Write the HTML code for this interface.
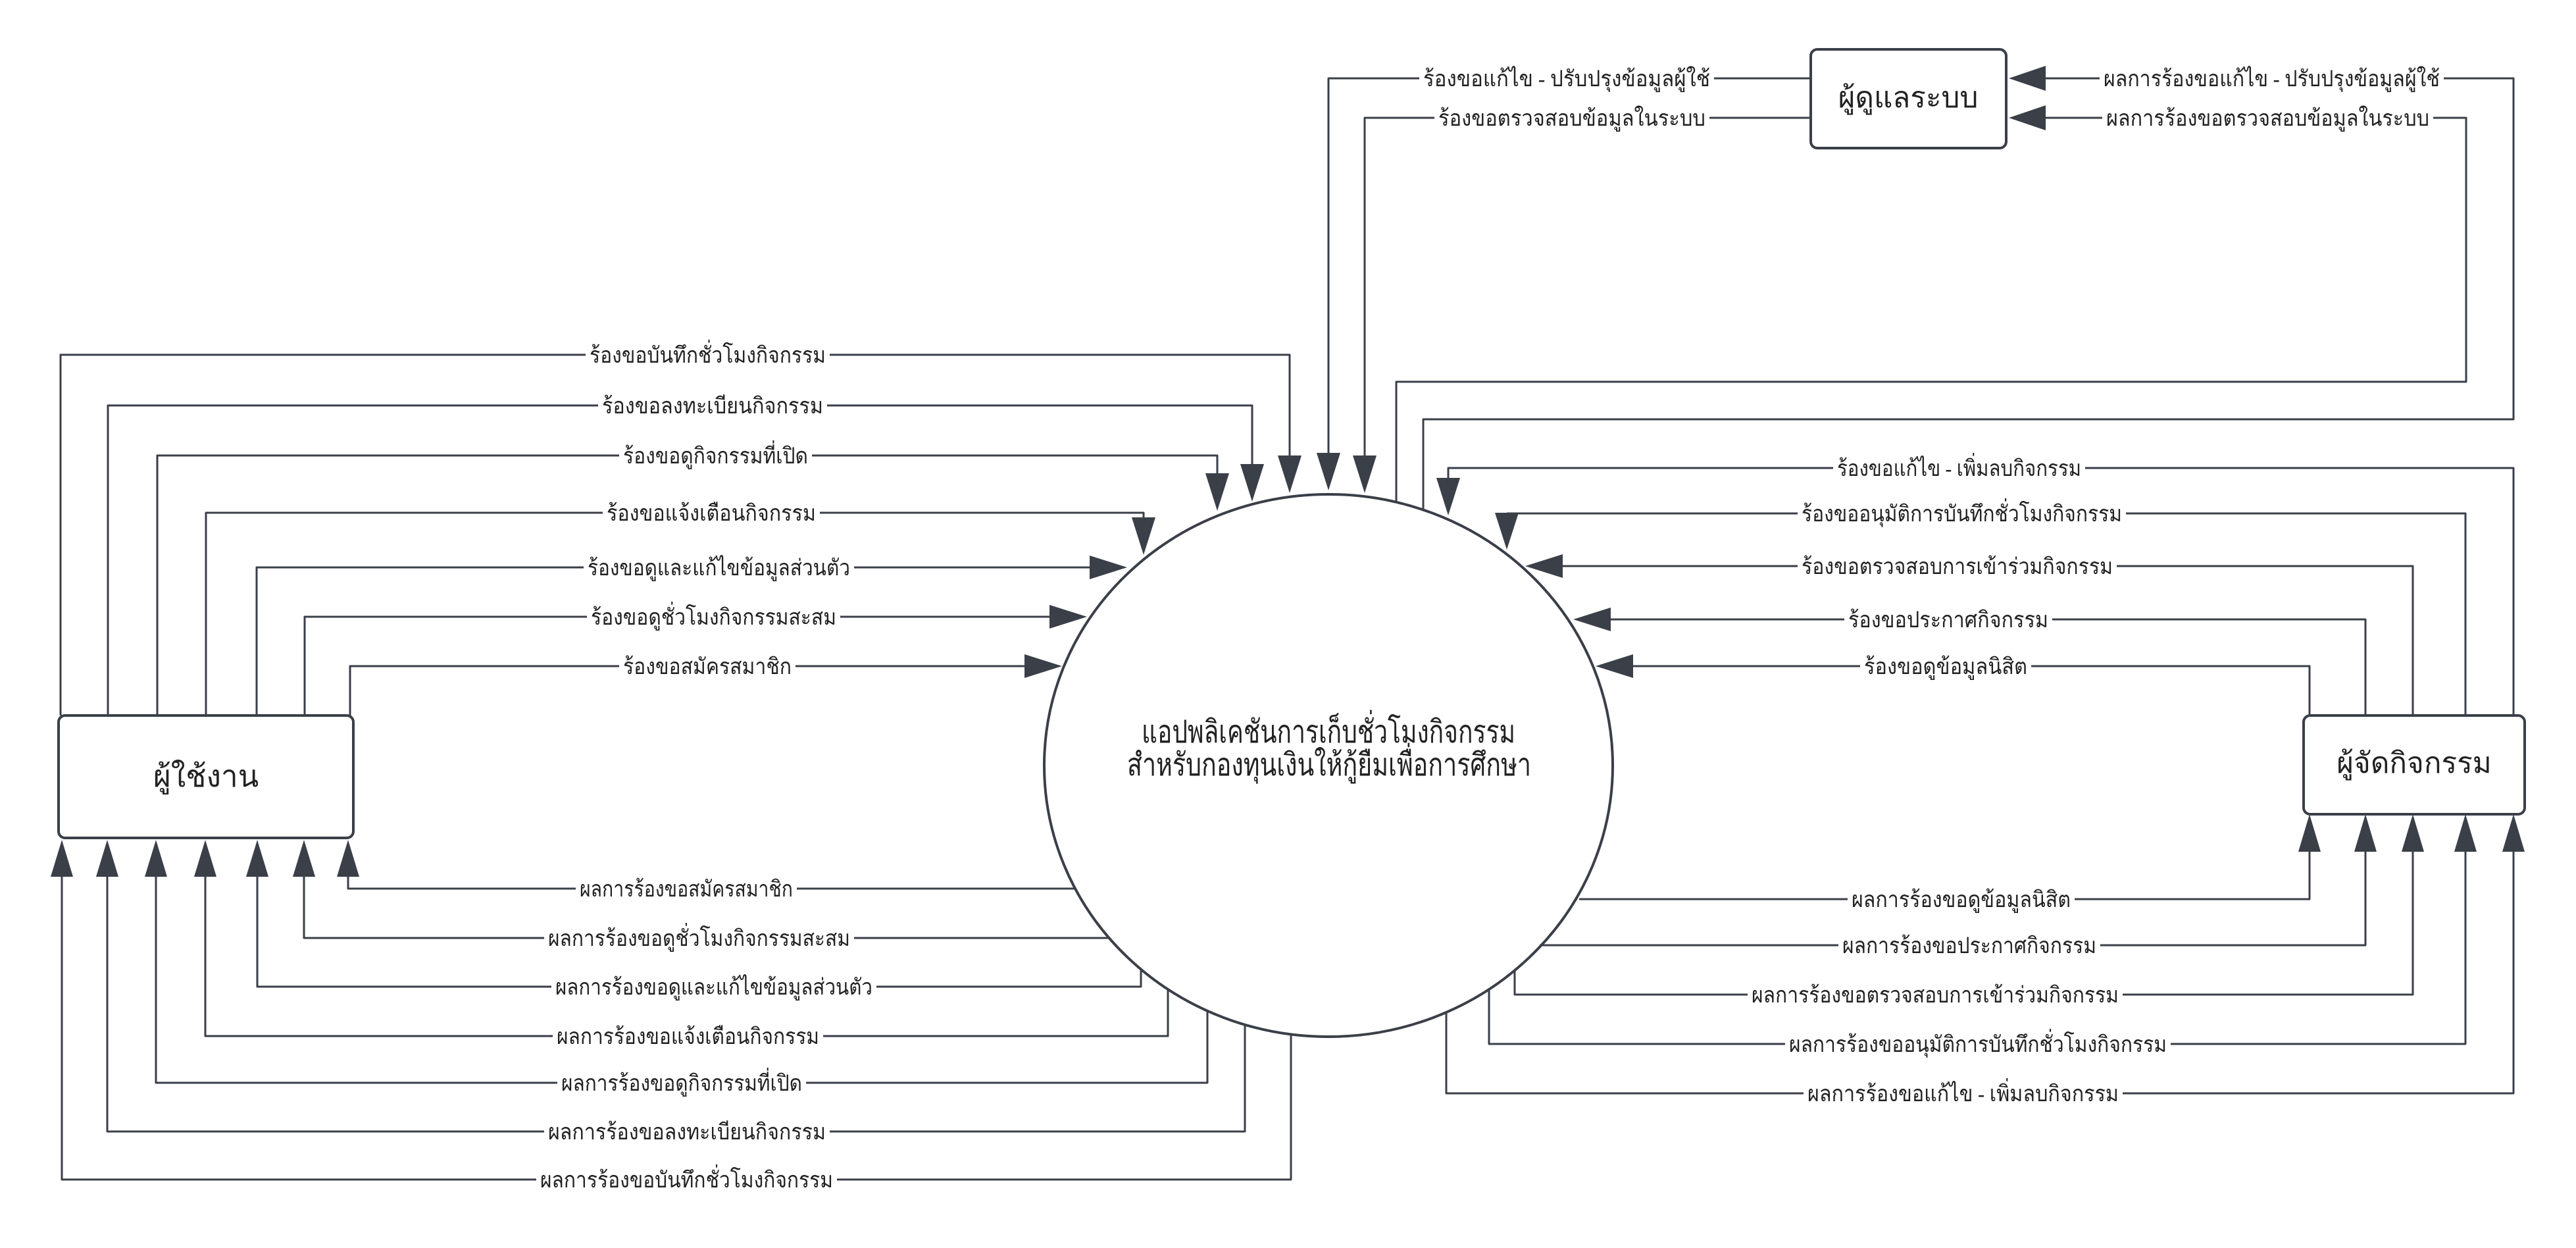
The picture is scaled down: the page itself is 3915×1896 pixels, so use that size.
<!DOCTYPE html>
<html><head><meta charset="utf-8"><style>
html,body{margin:0;padding:0;background:#fff;}
svg{display:block;}
text{font-family:"Liberation Serif","Noto Sans CJK SC",serif;fill:#222;}
.l{fill:none;stroke:#3a3f48;stroke-width:3;stroke-linejoin:round;}
.a{fill:#3a3f48;}
.b{fill:#fff;stroke:#3a3f48;stroke-width:4;}
.lb{font-size:34px;}
</style></head><body>
<svg width="3915" height="1896" viewBox="0 0 3915 1896" xmlns="http://www.w3.org/2000/svg">
<rect width="3915" height="1896" fill="#fff"/>
<ellipse class="b" cx="2019" cy="1163" rx="432" ry="412"/>
<text x="2019" y="1128" text-anchor="middle" font-size="48" textLength="568" lengthAdjust="spacingAndGlyphs">แอปพลิเคชันการเก็บชั่วโมงกิจกรรม</text>
<text x="2020" y="1178" text-anchor="middle" font-size="48" textLength="614" lengthAdjust="spacingAndGlyphs">สำหรับกองทุนเงินให้กู้ยืมเพื่อการศึกษา</text>

<rect class="b" x="89" y="1087" width="448" height="186" rx="10"/>
<text x="313" y="1195" text-anchor="middle" font-size="46">ผู้ใช้งาน</text>
<rect class="b" x="2752" y="75" width="297" height="150" rx="10"/>
<text x="2900" y="163" text-anchor="middle" font-size="44">ผู้ดูแลระบบ</text>
<rect class="b" x="3501" y="1087" width="336" height="150" rx="10"/>
<text x="3669" y="1174" text-anchor="middle" font-size="44">ผู้จัดกิจกรรม</text>

<!-- user requests -->
<polyline class="l" points="92,1087 92,539 1960,539 1960,700"/>
<polyline class="l" points="164,1087 164,616 1903,616 1903,706"/>
<polyline class="l" points="239,1087 239,692 1850,692 1850,720"/>
<polyline class="l" points="313,1087 313,779 1738,779 1738,787"/>
<polyline class="l" points="390,1087 390,862 1656,862"/>
<polyline class="l" points="463,1087 463,937 1595,937"/>
<polyline class="l" points="532,1087 532,1012 1557,1012"/>
<polygon class="a" points="1942,692 1978,692 1960,749"/>
<polygon class="a" points="1885,705 1921,705 1903,762"/>
<polygon class="a" points="1832,719 1868,719 1850,776"/>
<polygon class="a" points="1720,786 1756,786 1738,843"/>
<polygon class="a" points="1656,844 1656,880 1713,862"/>
<polygon class="a" points="1595,919 1595,955 1652,937"/>
<polygon class="a" points="1557,994 1557,1030 1614,1012"/>

<!-- user results -->
<polyline class="l" points="529,1332 529,1350 1634,1350"/>
<polyline class="l" points="462,1332 462,1425 1685,1425"/>
<polyline class="l" points="391,1332 391,1499 1734,1499 1734,1472"/>
<polyline class="l" points="312,1332 312,1574 1775,1574 1775,1503"/>
<polyline class="l" points="237,1332 237,1645 1835,1645 1835,1536"/>
<polyline class="l" points="163,1332 163,1719 1892,1719 1892,1557"/>
<polyline class="l" points="94,1332 94,1792 1962,1792 1962,1571"/>
<polygon class="a" points="512,1332 546,1332 529,1276"/>
<polygon class="a" points="445,1332 479,1332 462,1276"/>
<polygon class="a" points="374,1332 408,1332 391,1276"/>
<polygon class="a" points="295,1332 329,1332 312,1276"/>
<polygon class="a" points="220,1332 254,1332 237,1276"/>
<polygon class="a" points="146,1332 180,1332 163,1276"/>
<polygon class="a" points="77,1332 111,1332 94,1276"/>

<!-- admin requests -->
<polyline class="l" points="2752,119 2019,119 2019,690"/>
<polyline class="l" points="2752,179 2074,179 2074,694"/>
<polygon class="a" points="2001,688 2037,688 2019,745"/>
<polygon class="a" points="2056,692 2092,692 2074,749"/>
<polyline class="l" points="2163,775 2163,637 3820,637 3820,119 3109,119"/>
<polyline class="l" points="2122,763 2122,580 3748,580 3748,179 3109,179"/>
<polygon class="a" points="3109,100 3109,138 3053,119"/>
<polygon class="a" points="3109,160 3109,198 3053,179"/>

<!-- organizer requests -->
<polyline class="l" points="3820,1087 3820,711 2201,711 2201,727"/>
<polyline class="l" points="3747,1087 3747,780 2290,780"/>
<polyline class="l" points="3667,1087 3667,860 2375,860"/>
<polyline class="l" points="3595,1087 3595,941 2448,941"/>
<polyline class="l" points="3510,1087 3510,1012 2482,1012"/>
<polygon class="a" points="2183,726 2219,726 2201,783"/>
<polygon class="a" points="2272,779 2308,779 2290,835"/>
<polygon class="a" points="2375,842 2375,878 2318,860"/>
<polygon class="a" points="2448,923 2448,959 2391,941"/>
<polygon class="a" points="2482,994 2482,1030 2425,1012"/>

<!-- organizer results -->
<polyline class="l" points="3510,1292 3510,1366 2400,1366"/>
<polyline class="l" points="3595,1292 3595,1436 2340,1436"/>
<polyline class="l" points="3667,1292 3667,1511 2302,1511 2302,1474"/>
<polyline class="l" points="3747,1292 3747,1586 2263,1586 2263,1503"/>
<polyline class="l" points="3820,1292 3820,1661 2198,1661 2198,1538"/>
<polygon class="a" points="3493,1294 3527,1294 3510,1237"/>
<polygon class="a" points="3578,1294 3612,1294 3595,1237"/>
<polygon class="a" points="3650,1294 3684,1294 3667,1237"/>
<polygon class="a" points="3730,1294 3764,1294 3747,1237"/>
<polygon class="a" points="3803,1294 3837,1294 3820,1237"/>

<g fill="#fff">
<rect x="890" y="519" width="371" height="40"/>
<rect x="909" y="596" width="348" height="40"/>
<rect x="941" y="672" width="293" height="40"/>
<rect x="916" y="759" width="330" height="40"/>
<rect x="887" y="842" width="411" height="40"/>
<rect x="892" y="917" width="385" height="40"/>
<rect x="941" y="992" width="268" height="40"/>
<rect x="875" y="1330" width="336" height="40"/>
<rect x="827" y="1405" width="471" height="40"/>
<rect x="838" y="1479" width="494" height="40"/>
<rect x="840" y="1554" width="411" height="40"/>
<rect x="847" y="1625" width="378" height="40"/>
<rect x="827" y="1699" width="434" height="40"/>
<rect x="815" y="1772" width="457" height="40"/>
<rect x="2157" y="99" width="448" height="40"/>
<rect x="2180" y="159" width="418" height="40"/>
<rect x="3191" y="99" width="523" height="40"/>
<rect x="3195" y="159" width="503" height="40"/>
<rect x="2786" y="691" width="383" height="40"/>
<rect x="2732" y="760" width="499" height="40"/>
<rect x="2732" y="840" width="485" height="40"/>
<rect x="2803" y="921" width="316" height="40"/>
<rect x="2827" y="992" width="260" height="40"/>
<rect x="2808" y="1346" width="345" height="40"/>
<rect x="2794" y="1416" width="398" height="40"/>
<rect x="2656" y="1491" width="570" height="40"/>
<rect x="2713" y="1566" width="586" height="40"/>
<rect x="2741" y="1641" width="485" height="40"/>
</g>

<g class="lb">
<text x="896" y="551" textLength="359" lengthAdjust="spacingAndGlyphs">ร้องขอบันทึกชั่วโมงกิจกรรม</text>
<text x="915" y="628" textLength="336" lengthAdjust="spacingAndGlyphs">ร้องขอลงทะเบียนกิจกรรม</text>
<text x="947" y="704" textLength="281" lengthAdjust="spacingAndGlyphs">ร้องขอดูกิจกรรมที่เปิด</text>
<text x="922" y="791" textLength="318" lengthAdjust="spacingAndGlyphs">ร้องขอแจ้งเตือนกิจกรรม</text>
<text x="893" y="874" textLength="399" lengthAdjust="spacingAndGlyphs">ร้องขอดูและแก้ไขข้อมูลส่วนตัว</text>
<text x="898" y="949" textLength="373" lengthAdjust="spacingAndGlyphs">ร้องขอดูชั่วโมงกิจกรรมสะสม</text>
<text x="947" y="1024" textLength="256" lengthAdjust="spacingAndGlyphs">ร้องขอสมัครสมาชิก</text>

<text x="881" y="1362" textLength="324" lengthAdjust="spacingAndGlyphs">ผลการร้องขอสมัครสมาชิก</text>
<text x="833" y="1437" textLength="459" lengthAdjust="spacingAndGlyphs">ผลการร้องขอดูชั่วโมงกิจกรรมสะสม</text>
<text x="844" y="1511" textLength="482" lengthAdjust="spacingAndGlyphs">ผลการร้องขอดูและแก้ไขข้อมูลส่วนตัว</text>
<text x="846" y="1586" textLength="399" lengthAdjust="spacingAndGlyphs">ผลการร้องขอแจ้งเตือนกิจกรรม</text>
<text x="853" y="1657" textLength="366" lengthAdjust="spacingAndGlyphs">ผลการร้องขอดูกิจกรรมที่เปิด</text>
<text x="833" y="1731" textLength="422" lengthAdjust="spacingAndGlyphs">ผลการร้องขอลงทะเบียนกิจกรรม</text>
<text x="821" y="1804" textLength="445" lengthAdjust="spacingAndGlyphs">ผลการร้องขอบันทึกชั่วโมงกิจกรรม</text>

<text x="2163" y="131" textLength="436" lengthAdjust="spacingAndGlyphs">ร้องขอแก้ไข - ปรับปรุงข้อมูลผู้ใช้</text>
<text x="2186" y="191" textLength="406" lengthAdjust="spacingAndGlyphs">ร้องขอตรวจสอบข้อมูลในระบบ</text>
<text x="3197" y="131" textLength="511" lengthAdjust="spacingAndGlyphs">ผลการร้องขอแก้ไข - ปรับปรุงข้อมูลผู้ใช้</text>
<text x="3201" y="191" textLength="491" lengthAdjust="spacingAndGlyphs">ผลการร้องขอตรวจสอบข้อมูลในระบบ</text>

<text x="2792" y="723" textLength="371" lengthAdjust="spacingAndGlyphs">ร้องขอแก้ไข - เพิ่มลบกิจกรรม</text>
<text x="2738" y="792" textLength="487" lengthAdjust="spacingAndGlyphs">ร้องขออนุมัติการบันทึกชั่วโมงกิจกรรม</text>
<text x="2738" y="872" textLength="473" lengthAdjust="spacingAndGlyphs">ร้องขอตรวจสอบการเข้าร่วมกิจกรรม</text>
<text x="2809" y="953" textLength="304" lengthAdjust="spacingAndGlyphs">ร้องขอประกาศกิจกรรม</text>
<text x="2833" y="1024" textLength="248" lengthAdjust="spacingAndGlyphs">ร้องขอดูข้อมูลนิสิต</text>

<text x="2814" y="1378" textLength="333" lengthAdjust="spacingAndGlyphs">ผลการร้องขอดูข้อมูลนิสิต</text>
<text x="2800" y="1448" textLength="386" lengthAdjust="spacingAndGlyphs">ผลการร้องขอประกาศกิจกรรม</text>
<text x="2662" y="1523" textLength="558" lengthAdjust="spacingAndGlyphs">ผลการร้องขอตรวจสอบการเข้าร่วมกิจกรรม</text>
<text x="2719" y="1598" textLength="574" lengthAdjust="spacingAndGlyphs">ผลการร้องขออนุมัติการบันทึกชั่วโมงกิจกรรม</text>
<text x="2747" y="1673" textLength="473" lengthAdjust="spacingAndGlyphs">ผลการร้องขอแก้ไข - เพิ่มลบกิจกรรม</text>
</g>
</svg>
</body></html>
